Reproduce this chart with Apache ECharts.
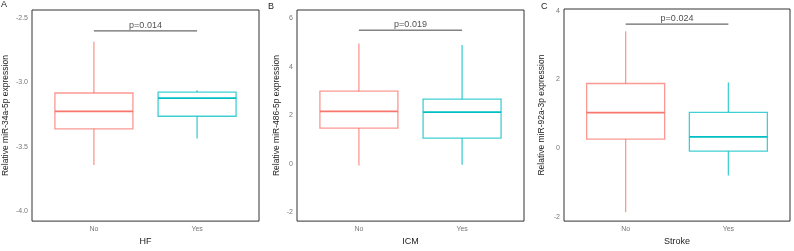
<!DOCTYPE html>
<html>
<head>
<meta charset="utf-8">
<script src="https://cdn.jsdelivr.net/npm/echarts@6/dist/echarts.min.js"></script>
<style>
  html, body { margin: 0; padding: 0; background: #fff; }
  #chart { width: 794px; height: 251px; }
</style>
</head>
<body>
<div id="chart"></div>
<script>
// groups on the x axis
var groups = ['No', 'Yes'];

// box stats per panel: [min, Q1, median, Q3, max] for No, Yes
var boxHF = [[-3.64, -3.36, -3.225, -3.083, -2.685], [-3.436, -3.263, -3.122, -3.076, -3.061]];
var boxICM = [[-0.07, 1.47, 2.16, 2.99, 4.95], [-0.04, 1.055, 2.125, 2.66, 4.89]];
var boxStroke = [[-1.87, 0.26, 1.03, 1.88, 3.40], [-0.80, -0.09, 0.326, 1.04, 1.91]];

// p-value bracket level and text
var pLevels = [-2.602, 5.50, 3.61];
var pTexts = ['p=0.014', 'p=0.019', 'p=0.024'];

// y axis ranges and tick labels
var yRanges = [[-4.075, -2.44], [-2.36, 6.33], [-2.13, 4.05]];
var yTicks = [[-4.0, -3.5, -3.0, -2.5], [-2, 0, 2, 4, 6], [-2, 0, 2, 4]];
var yDecimals = [1, 0, 0];

var xTitles = ['HF', 'ICM', 'Stroke'];
var yTitles = ['Relative miR-34a-5p expression', 'Relative miR-486-5p expression', 'Relative miR-92a-3p expression'];
var letters = ['A', 'B', 'C'];

var boxes = [boxHF, boxICM, boxStroke];
var lineColors = ['rgba(248,118,109,0.75)', 'rgba(0,191,196,0.75)'];
var medianColors = ['#F8766D', '#00BFC4'];

var font = 'Liberation Sans';
var grids = [
  { left: 32, top: 10, width: 227, height: 222 },
  { left: 297, top: 10, width: 227, height: 222 },
  { left: 564, top: 9, width: 226, height: 222 }
];
var yNameGaps = [22, 16, 18];
var letterPos = [[1, 0], [268, 2], [541, 2]];
var boxW = 78;

// box + whiskers, no end caps (ggplot style)
function renderBox(params, api) {
  var x = api.value(0);
  var k = Math.round(x) - 1;
  var pMin = api.coord([x, api.value(1)]);
  var pQ1 = api.coord([x, api.value(2)]);
  var pMed = api.coord([x, api.value(3)]);
  var pQ3 = api.coord([x, api.value(4)]);
  var pMax = api.coord([x, api.value(5)]);
  var cx = pQ1[0], half = boxW / 2;
  var stroke = { stroke: lineColors[k], lineWidth: 1.3, fill: null };
  return {
    type: 'group',
    children: [
      { type: 'line', shape: { x1: cx, y1: pQ3[1], x2: cx, y2: pMax[1] }, style: stroke },
      { type: 'line', shape: { x1: cx, y1: pQ1[1], x2: cx, y2: pMin[1] }, style: stroke },
      { type: 'rect', shape: { x: cx - half, y: pQ3[1], width: boxW, height: pQ1[1] - pQ3[1] }, style: stroke },
      { type: 'line', shape: { x1: cx - half, y1: pMed[1], x2: cx + half, y2: pMed[1] },
        style: { stroke: medianColors[k], lineWidth: 1.8 } }
    ]
  };
}

var option = {
  animation: false,
  title: [],
  grid: [],
  xAxis: [],
  yAxis: [],
  series: []
};

grids.forEach(function(g, i) {
  option.grid.push({
    left: g.left, top: g.top, width: g.width, height: g.height,
    show: true, borderColor: '#333', borderWidth: 1, backgroundColor: '#fff'
  });
  option.title.push({
    text: letters[i], left: letterPos[i][0], top: letterPos[i][1], padding: 0,
    textStyle: { fontFamily: font, fontSize: 9, fontWeight: 'normal', color: '#222' }
  });
  option.xAxis.push({
    type: 'value', gridIndex: i, min: 0.4, max: 2.6,
    name: xTitles[i], nameLocation: 'middle', nameGap: 15,
    nameTextStyle: { fontFamily: font, fontSize: 9, color: '#222' },
    axisLine: { show: false }, axisTick: { show: false }, splitLine: { show: false },
    axisLabel: {
      customValues: [1, 2], margin: 4, fontFamily: font, fontSize: 7, color: '#777',
      formatter: function(v) { return groups[Math.round(v) - 1]; }
    }
  });
  option.yAxis.push({
    type: 'value', gridIndex: i, min: yRanges[i][0], max: yRanges[i][1],
    name: yTitles[i], nameLocation: 'middle', nameGap: yNameGaps[i],
    nameTextStyle: { fontFamily: font, fontSize: 8.5, color: '#222' },
    axisLine: { show: false }, axisTick: { show: false }, splitLine: { show: false },
    axisLabel: {
      customValues: yTicks[i], margin: 4, fontFamily: font, fontSize: 7, color: '#777',
      formatter: (function(d) { return function(v) { return v.toFixed(d); }; })(yDecimals[i])
    }
  });

  option.series.push({
    type: 'custom', xAxisIndex: i, yAxisIndex: i, silent: true,
    renderItem: renderBox,
    encode: { x: 0, y: [1, 2, 3, 4, 5] },
    data: boxes[i].map(function(b, k) { return [k + 1].concat(b); })
  });
  option.series.push({
    type: 'line', xAxisIndex: i, yAxisIndex: i, symbol: 'none', silent: true,
    lineStyle: { color: '#444', width: 1 },
    data: [[1, pLevels[i]], [2, pLevels[i]]]
  });
  option.series.push({
    type: 'scatter', xAxisIndex: i, yAxisIndex: i, symbolSize: 0, silent: true,
    label: {
      show: true, position: 'top', distance: 1, fontFamily: font, fontSize: 9, color: '#222',
      formatter: pTexts[i]
    },
    data: [[1.5, pLevels[i]]]
  });
});

var chart = echarts.init(document.getElementById('chart'));
chart.setOption(option);
</script>
</body>
</html>
